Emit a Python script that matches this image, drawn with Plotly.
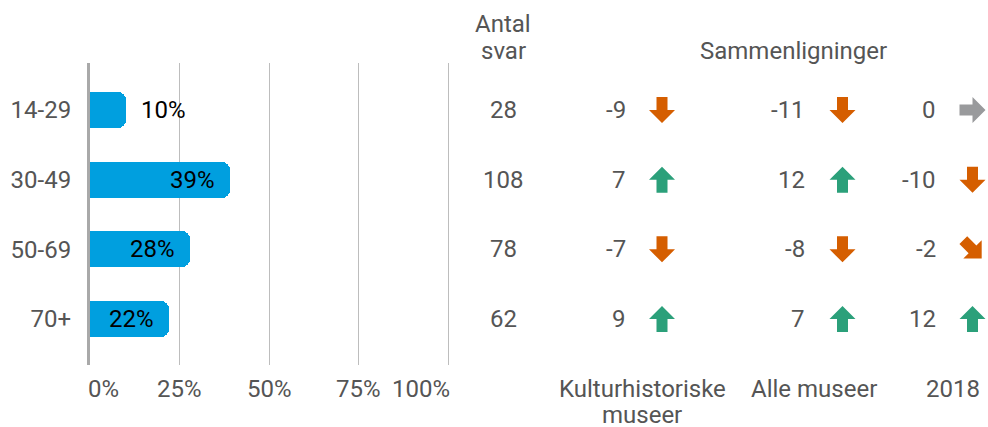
import math
import plotly.graph_objects as go

# ---------------- data ----------------
age_groups = ["14-29", "30-49", "50-69", "70+"]
shares = [10, 39, 28, 22]
answers = [28, 108, 78, 62]
diff_kultur = [-9, 7, -7, 9]
diff_alle = [-11, 12, -8, 7]
diff_2018 = [0, -10, -2, 12]
x_ticks = [0, 25, 50, 75, 100]
x_tick_labels = ["0%", "25%", "50%", "75%", "100%"]
comparison_titles = [["Kulturhistoriske", "museer"], ["Alle museer"], ["2018"]]
answers_title = ["Antal", "svar"]
group_title = "Sammenligninger"

# ---------------- style ----------------
W, H = 988, 427
FONT = "Roboto"
FS = 24
GREY_TXT = "#555555"
BLUE = "#009FDF"
UP_C = "#2BA07A"
DOWN_C = "#D55E00"
FLAT_C = "#999A9C"

rows = list(range(len(age_groups)))

def py(px):
    """pixel-from-top -> paper y"""
    return 1 - px / H

fig = go.Figure()

fig.add_trace(go.Bar(
    x=shares, y=rows, orientation="h", width=0.52,
    marker=dict(color=BLUE, cornerradius=8, line=dict(width=0)),
    hoverinfo="skip", showlegend=False,
))

# invisible anchor trace for the full-width pixel axis (answer-count column)
fig.add_trace(go.Scatter(
    x=[503] * len(answers), y=rows, xaxis="x2", yaxis="y",
    mode="markers", marker=dict(opacity=0, size=1),
    hoverinfo="skip", showlegend=False,
))

annotations = []
shapes = []

# answer counts
for r, a in zip(rows, answers):
    annotations.append(dict(
        x=503, y=r, xref="x2", yref="y", text=str(a), showarrow=False,
        xanchor="center", yanchor="middle", font=dict(family=FONT, size=FS, color=GREY_TXT),
    ))

# bar value labels
for r, v in zip(rows, shares):
    inside = v >= 15
    annotations.append(dict(
        x=v, y=r, xref="x", yref="y", text=f"{v}%", showarrow=False,
        xanchor="right" if inside else "left", xshift=-13 if inside else 13,
        yanchor="middle", font=dict(family=FONT, size=FS, color="#000000"),
    ))

# x tick labels
for i, (t, lab) in enumerate(zip(x_ticks, x_tick_labels)):
    if i == 0:
        xa, xs = "left", -4
    elif i == len(x_ticks) - 1:
        xa, xs = "right", 4
    else:
        xa, xs = "center", 0
    annotations.append(dict(
        x=t, y=py(389), xref="x", yref="paper", text=lab, showarrow=False,
        xanchor=xa, xshift=xs, yanchor="middle",
        font=dict(family=FONT, size=FS, color=GREY_TXT),
    ))

# headers
for k, line in enumerate(answers_title):
    annotations.append(dict(
        x=503, y=py(24 + 27 * k), xref="x2", yref="paper", text=line, showarrow=False,
        xanchor="center", yanchor="middle", font=dict(family=FONT, size=FS, color=GREY_TXT),
    ))
annotations.append(dict(
    x=793, y=py(51), xref="x2", yref="paper", text=group_title, showarrow=False,
    xanchor="center", yanchor="middle", font=dict(family=FONT, size=FS, color=GREY_TXT),
))

# comparison columns
comparisons = [diff_kultur, diff_alle, diff_2018]
num_right = [628, 806.5, 938]
arrow_x = [662, 842.5, 972.5]
title_x = [642, 814, 953]

def arrow_path(angle_deg):
    # block arrow pointing up, centred at origin (pixels, y up)
    pts = [(0, 13), (13, 0), (5.5, 0), (5.5, -13), (-5.5, -13), (-5.5, 0), (-13, 0)]
    a = math.radians(angle_deg)
    out = []
    for x, y in pts:
        xr = x * math.cos(a) + y * math.sin(a)
        yr = -x * math.sin(a) + y * math.cos(a)
        out.append((xr, yr))
    return "M " + " L ".join(f"{x:.2f},{y:.2f}" for x, y in out) + " Z"

def arrow_style(v):
    if v == 0:
        return 90, FLAT_C
    if abs(v) < 5:
        return (45, UP_C) if v > 0 else (135, DOWN_C)
    return (0, UP_C) if v > 0 else (180, DOWN_C)

for c, vals in enumerate(comparisons):
    for r, v in zip(rows, vals):
        annotations.append(dict(
            x=num_right[c], y=r, xref="x2", yref="y", text=str(v), showarrow=False,
            xanchor="right", yanchor="middle", font=dict(family=FONT, size=FS, color=GREY_TXT),
        ))
        ang, col = arrow_style(v)
        shapes.append(dict(
            type="path", xref="x2", yref="y",
            xsizemode="pixel", xanchor=arrow_x[c], ysizemode="pixel", yanchor=r,
            path=arrow_path(ang), fillcolor=col, line=dict(width=0), layer="above",
        ))
    for k, line in enumerate(comparison_titles[c]):
        annotations.append(dict(
            x=title_x[c], y=py(389 + 26 * k), xref="x2", yref="paper", text=line,
            showarrow=False, xanchor="center", yanchor="middle",
            font=dict(family=FONT, size=FS, color=GREY_TXT),
        ))

X_MAX = 100.3
fig.update_layout(
    width=W, height=H, autosize=False,
    margin=dict(l=0, r=0, t=0, b=0),
    paper_bgcolor="white", plot_bgcolor="rgba(0,0,0,0)",
    font=dict(family=FONT, size=FS, color=GREY_TXT),
    bargap=0,
    xaxis=dict(
        domain=[90 / W, (90 + 3.58 * X_MAX) / W], range=[0, X_MAX], tickvals=x_ticks,
        showticklabels=False, showgrid=True, gridcolor="#BDBDBD", gridwidth=1,
        zeroline=False, showline=False, ticks="", fixedrange=True,
    ),
    yaxis=dict(
        domain=[py(365), py(63)], range=[3.66, -0.675],
        tickvals=rows, ticktext=age_groups, showgrid=False, zeroline=False,
        showline=True, linecolor="#A9A9A9", linewidth=3, ticks="",
        ticklabelstandoff=11, tickfont=dict(family=FONT, size=FS, color=GREY_TXT),
        fixedrange=True,
    ),
    xaxis2=dict(
        domain=[0, 1], range=[0, W], anchor="y", visible=False, fixedrange=True,
    ),
    annotations=annotations,
    shapes=shapes,
    showlegend=False,
)

fig.write_html(
    "out.html",
    config={"displayModeBar": False},
    post_script="document.body.style.margin='0';document.body.style.padding='0';",
)
